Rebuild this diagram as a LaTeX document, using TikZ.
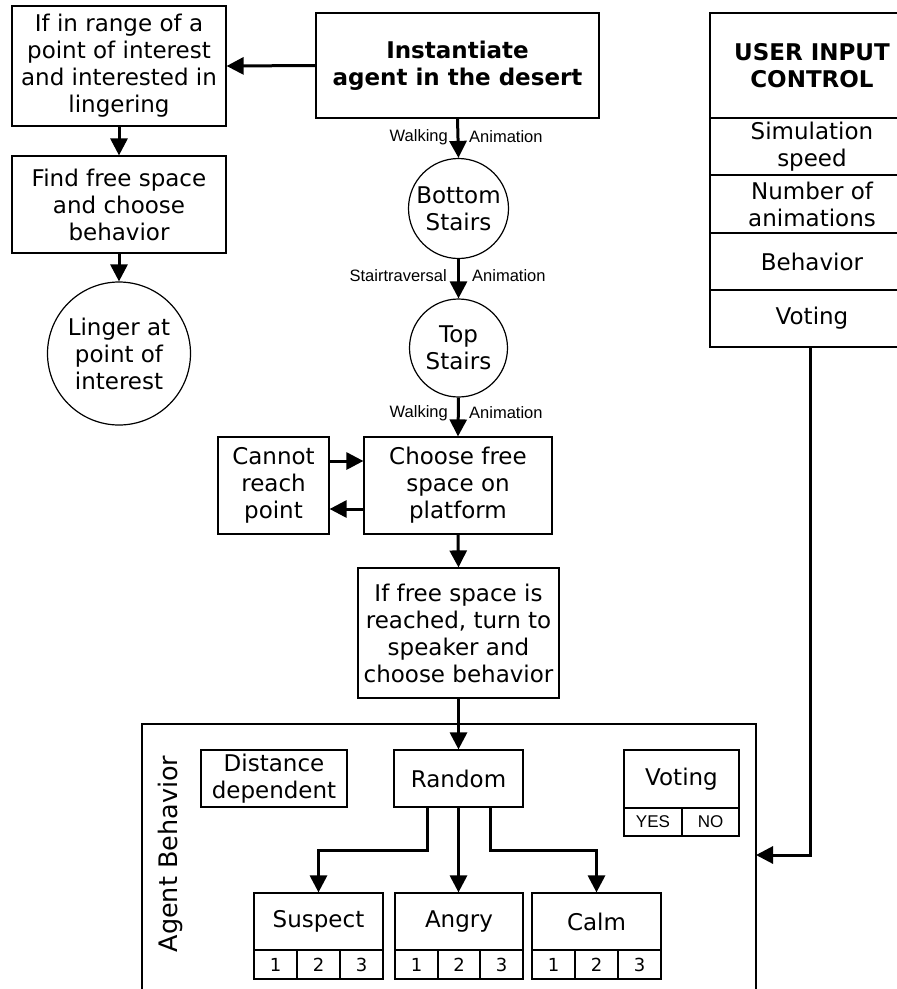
\documentclass[tikz,border=0pt]{standalone}
\usepackage{fontspec}
\setmainfont{DejaVu Sans}
\newfontfamily\arialfont{Liberation Sans}
\usetikzlibrary{arrows.meta,calc}

\begin{document}
\begin{tikzpicture}[x=1pt,y=-1pt,
  every node/.style={inner sep=0pt, align=center, font=\fontsize{23}{27}\selectfont},
  box/.style 2 args={draw, line width=1.2pt, minimum width=#1, minimum height=#2},
  circ/.style={draw, circle, line width=1.2pt, minimum size=#1},
  boldtxt/.style={font=\fontsize{23}{27}\selectfont\bfseries},
  lbl/.style={font=\arialfont\fontsize{16.5}{19}\selectfont},
  cell/.style={draw, line width=1.2pt, minimum width=43pt, minimum height=29pt,
               font=\fontsize{18}{19}\selectfont},
  yn/.style={draw, line width=1.2pt, minimum height=28pt,
             font=\arialfont\fontsize{17}{19}\selectfont},
  frame/.style={line width=1.2pt},
  arr/.style={line width=3pt, -{Triangle[length=17pt, width=17pt]}}]

\useasboundingbox (0,0) rectangle (897,989);
\clip (0,0) rectangle (897,989);

% ---- lingering branch ----
\node[box={214pt}{120pt}] (inrange) at (119,66)
  {If in range of a\\point of interest\\and interested in\\lingering};
\node[box={214pt}{97pt}] (findfree) at (119,204.5)
  {Find free space\\and choose\\behavior};
\node[circ=143pt] (linger) at (119,353.5) {Linger at\\point of\\interest};

% ---- main flow ----
\node[box={283pt}{105pt}, boldtxt] (inst) at (457.5,65.5)
  {Instantiate\\agent in the desert};
\node[circ=100pt] (bottom) at (458.5,208.5) {Bottom\\Stairs};
\node[circ=98pt] (top) at (458.5,348) {Top\\Stairs};
\node[box={111pt}{97pt}] (cannot) at (273.5,485.5) {Cannot\\reach\\point};
\node[box={188pt}{97pt}] (choose) at (458,485.5) {Choose free\\space on\\platform};
\node[box={201pt}{130pt}] (iffree) at (458.5,633)
  {If free space is\\reached, turn to\\speaker and\\choose behavior};

% ---- transition labels ----
\node[lbl, anchor=east] (walk1) at (448,137) {Walking};
\node[lbl, anchor=west] (anim1) at (469,137) {Animation};
\node[lbl, anchor=east] (stair2) at (447,276) {Stairtraversal};
\node[lbl, anchor=west] (anim2) at (472,276) {Animation};
\node[lbl, anchor=east] (walk3) at (448,413) {Walking};
\node[lbl, anchor=west] (anim3) at (469,413) {Animation};

% ---- user input control panel ----
\node[box={204pt}{105pt}, boldtxt] (uic) at (812,65.5) {USER INPUT\\CONTROL};
\node[box={204pt}{57pt}] (simspeed) at (812,146.5) {Simulation\\speed};
\node[box={204pt}{58pt}] (numanim) at (812,204) {Number of\\animations};
\node[box={204pt}{57pt}] (behav) at (812,261.5) {Behavior};
\node[box={204pt}{57pt}] (voting) at (812,318.5) {Voting};

% ---- agent behavior container ----
\draw[frame] (142,995) -- (142,724) -- (756,724) -- (756,995);
\coordinate (agentR) at (756,855);
\node[rotate=90, font=\fontsize{25.5}{30}\selectfont] (agentlbl) at (170,854) {Agent Behavior};

\node[box={146pt}{57pt}] (distance) at (274,778.5) {Distance\\dependent};
\node[box={129pt}{57pt}] (random) at (458.5,778.5) {Random};
\node[box={115pt}{58pt}] (vote) at (681.5,779) {Voting};
\node[yn, minimum width=58pt] (yes) at (653,822) {YES};
\node[yn, minimum width=57pt] (no) at (710.5,822) {NO};

\node[box={129pt}{57pt}] (suspect) at (318.5,921.5) {Suspect};
\node[box={128pt}{57pt}] (angry) at (459,921.5) {Angry};
\node[box={129pt}{57pt}] (calm) at (596.5,921.5) {Calm};
\foreach \n/\cx in {1/275.5,2/318.5,3/361.5}
  \node[cell] (sus\n) at (\cx,964.5) {\n};
\foreach \n/\cx in {1/416.5,2/459,3/501.5}
  \node[cell] (ang\n) at (\cx,964.5) {\n};
\foreach \n/\cx in {1/553.5,2/596.5,3/639.5}
  \node[cell] (calm\n) at (\cx,964.5) {\n};

% ---- connectors ----
\draw[arr] (inst.west) -- (inrange.east);
\draw[arr] (inrange.south) -- (findfree.north);
\draw[arr] (findfree.south) -- (linger.north);
\draw[arr] (inst.south) -- (bottom.north);
\draw[arr] (bottom.south) -- (top.north);
\draw[arr] (top.south) -- (choose.north);
\draw[arr] ($(cannot.east)+(0,-24.5)$) -- ($(choose.west)+(0,-24.5)$);
\draw[arr] ($(choose.west)+(0,23.5)$) -- ($(cannot.east)+(0,23.5)$);
\draw[arr] (choose.south) -- (iffree.north);
\draw[arr] (iffree.south) -- (random.north);
\draw[arr] ([xshift=-31pt]random.south) -- ++(0,43) -| (suspect.north);
\draw[arr] (random.south) -- (random.south |- angry.north);
\draw[arr] ([xshift=32pt]random.south) -- ++(0,43) -| (calm.north);
\draw[arr] ([xshift=-2pt]voting.south) -- ([xshift=-2pt]voting.south |- agentR) -- (agentR);
\end{tikzpicture}
\end{document}
